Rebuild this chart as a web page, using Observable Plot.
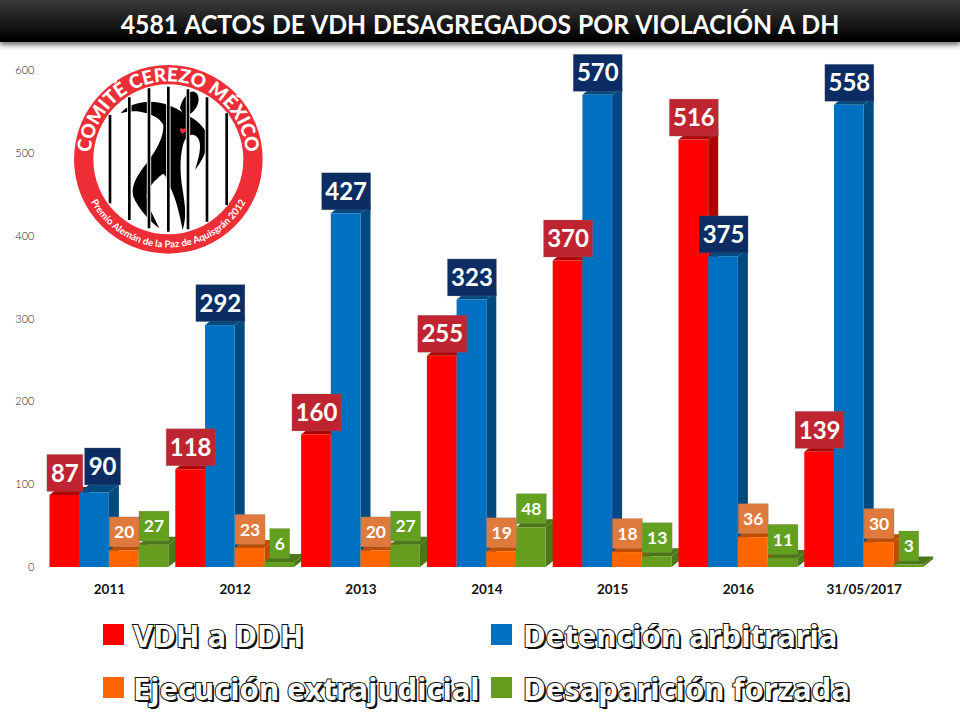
<!DOCTYPE html>
<html lang="es">
<head>
<meta charset="utf-8">
<script src="https://cdn.jsdelivr.net/npm/d3@7"></script>
<script src="https://cdn.jsdelivr.net/npm/@observablehq/plot@0.6"></script>
<style>
html,body{margin:0;padding:0;width:960px;height:720px;overflow:hidden;background:#fff;}
#wrap{position:relative;width:960px;height:720px;font-family:Lato,sans-serif;}
#band{position:absolute;left:0;top:0;width:960px;height:42px;background:linear-gradient(#3b3b3b,#000 95%);box-shadow:0 3px 5px rgba(0,0,0,.55);z-index:3;}
#title{position:absolute;left:0;top:0;width:960px;height:42px;margin:0;text-align:center;color:#fff;font:700 27.5px/47px Lato,sans-serif;z-index:4;white-space:nowrap;transform:scaleX(.9);word-spacing:1px;}
#chart{position:absolute;left:0;top:46px;}
#logo{position:absolute;left:0;top:0;z-index:2;}
.sw{position:absolute;width:21px;height:21px;}
.lg{position:absolute;font:700 31px/40px "Noto Sans",sans-serif;color:#fff;-webkit-text-stroke:2px #111;paint-order:stroke fill;text-shadow:2px 2px 0 #111;white-space:nowrap;}
</style>
</head>
<body>
<div id="wrap">
  <div id="band"></div>
  <h1 id="title">4581 ACTOS DE VDH DESAGREGADOS POR VIOLACIÓN A DH</h1>
  <div id="chart"></div>
  <svg id="logo" width="320" height="260" viewBox="0 0 960 780">
    <defs>
      <path id="arcTop" d="M 271.3 490 A 234 234 0 1 1 738.7 490"/>
      <path id="arcBot" d="M 247.4 540 A 265 265 0 0 0 762.6 540"/>
    </defs>
    <circle cx="505" cy="478" r="283" fill="#ee2e36"/>
    <circle cx="505" cy="478" r="225" fill="#fff"/>
    <text font-family="Lato,sans-serif" font-weight="900" font-size="57" fill="#fff"><textPath href="#arcTop" startOffset="50%" text-anchor="middle">COMITÉ CEREZO MÉXICO</textPath></text>
    <text font-family="Lato,sans-serif" font-weight="700" font-size="29" fill="#fff"><textPath href="#arcBot" startOffset="50%" text-anchor="middle">Premio Alemán de la Paz de Aquisgrán 2012</textPath></text>
    <path d="M540 322C548 295 565 272 582 275C600 280 600 310 585 328C575 342 560 350 552 342C548 338 542 332 540 322Z" fill="#000"/>
    <path d="M362 340C378 318 410 306 450 305C490 306 525 320 552 340C575 352 600 366 618 395C628 425 622 462 585 510C596 475 606 440 596 418C585 398 565 400 552 425C540 460 538 510 548 570C556 620 560 650 548 690C540 650 530 600 510 560C500 535 495 520 488 522C465 540 440 565 440 590C445 625 465 655 478 685C450 665 415 625 400 590C392 560 408 530 440 490C470 450 492 410 490 375C480 352 450 340 420 335C400 332 380 334 362 340Z" fill="#000"/>
    <g stroke="#fff" stroke-width="13"><path d="M330 345V610M388 292V660M447 265V685M505 260V695M564 268V688M621 292V665M680 340V615"/></g>
    <g stroke="#000" stroke-width="8"><path d="M330 345V610M388 292V660M447 265V685M505 260V695M564 268V688M621 292V665M680 340V615"/></g>
    <path d="M548 402L539 391C538 384 546 382 549 388C553 382 560 386 558 392Z" fill="#ee2e36"/>
  </svg>
  <div class="sw" style="left:103px;top:624px;background:#ff0000"></div>
  <div class="lg" style="left:133px;top:615px">VDH a DDH</div>
  <div class="sw" style="left:491px;top:624px;background:#0070c0"></div>
  <div class="lg" style="left:523px;top:615px">Detención arbitraria</div>
  <div class="sw" style="left:103px;top:677px;background:#ff6600"></div>
  <div class="lg" style="left:133px;top:668px">Ejecución extrajudicial</div>
  <div class="sw" style="left:491px;top:677px;background:#669d1f"></div>
  <div class="lg" style="left:523px;top:668px">Desaparición forzada</div>
</div>
<script>
const years = ["2011","2012","2013","2014","2015","2016","31/05/2017"];
const seriesNames = ["VDH a DDH","Detención arbitraria","Ejecución extrajudicial","Desaparición forzada"];
const vdhDdh = [87,118,160,255,370,516,139];
const detencion = [90,292,427,323,570,375,558];
const ejecucion = [20,23,20,19,18,36,30];
const desaparicion = [27,6,27,48,13,11,3];
const yTicks = [0,100,200,300,400,500,600];

const frontColors = ["#ff0000","#0070c0","#ff6600","#669d1f"];
const sideColors = ["#b00000","#004a80","#bf4d00","#4c7618"];
const boxColors = ["#bf2530","#0b2d63","#e07a3c","#63a01f"];

const seriesValues = [vdhDdh,detencion,ejecucion,desaparicion];
const rows = seriesValues.flatMap((vals,s)=>vals.map((value,i)=>({year:years[i],series:seriesNames[s],value})));

// Oblique depth of each bar, in pixels
const depthX = 10, depthY = 8;

function extrude(index, scales, values, dimensions, context, next){
  const g = next(index, scales, values, dimensions, context);
  d3.select(g).selectAll("rect").each(function(i){
    const x = +this.getAttribute("x"), y = +this.getAttribute("y"),
          w = +this.getAttribute("width"), h = +this.getAttribute("height");
    const s = seriesNames.indexOf(rows[i].series);
    const mk = pts => {
      const p = document.createElementNS("http://www.w3.org/2000/svg","polygon");
      p.setAttribute("points", pts.map(q=>q.join(",")).join(" "));
      p.setAttribute("fill", sideColors[s]);
      this.parentNode.insertBefore(p, this);
    };
    mk([[x+w,y],[x+w+depthX,y-depthY],[x+w+depthX,y+h-depthY],[x+w,y+h]]);
    mk([[x,y],[x+depthX,y-depthY],[x+w+depthX,y-depthY],[x+w,y]]);
  });
  return g;
}

function boxed(index, scales, values, dimensions, context, next){
  const g = next(index, scales, values, dimensions, context);
  d3.select(g).selectAll("text").each(function(i){
    const m = /translate\(([-\d.]+),\s*([-\d.]+)\)/.exec(this.getAttribute("transform") || "");
    if (!m) return;
    const d = rows[i], s = seriesNames.indexOf(d.series), big = s < 2;
    const digits = String(d.value).length;
    const w = big ? (digits === 3 ? 49 : 36) : (digits === 1 ? 20 : 30);
    const h = big ? 37 : 30;
    // the "90" box sits off its bar in the reference
    const nudgeX = d.value === 90 ? 8 : 0, nudgeY = d.value === 90 ? -4 : 0;
    const ns = "http://www.w3.org/2000/svg";
    const box = document.createElementNS(ns,"g");
    box.setAttribute("transform",`translate(${+m[1]+nudgeX},${+m[2]-4-h/2+nudgeY})`);
    const r = document.createElementNS(ns,"rect");
    r.setAttribute("x",-w/2); r.setAttribute("y",-h/2);
    r.setAttribute("width",w); r.setAttribute("height",h);
    r.setAttribute("fill",boxColors[s]);
    r.setAttribute("stroke","rgba(120,120,120,.35)");
    r.setAttribute("stroke-width","0.7");
    this.parentNode.insertBefore(box,this);
    box.appendChild(r);
    box.appendChild(this);
    this.removeAttribute("transform");
    this.setAttribute("font-size", big ? 24 : 17.5);
    this.setAttribute("y", 0);
    this.setAttribute("dy","0.36em");
  });
  return g;
}

const plot = Plot.plot({
  width: 960,
  height: 560,
  marginTop: 24,
  marginBottom: 39,
  marginLeft: 46,
  marginRight: 33.4,
  style: {fontFamily: "Lato, sans-serif", background: "transparent", overflow: "visible"},
  fx: {domain: years, padding: 0, round: false, label: null},
  x: {domain: seriesNames, paddingInner: 0, paddingOuter: 0.118, round: false, axis: null},
  y: {domain: [0,600], label: null},
  color: {domain: seriesNames, range: frontColors},
  marks: [
    Plot.barY(rows, {fx: "year", x: "series", y: "value", fill: "series", render: extrude}),
    Plot.text(rows, {fx: "year", x: "series", y: "value", text: "value", fill: "#fff", fontWeight: 700, render: boxed}),
    Plot.axisY({ticks: yTicks, tickSize: 0, tickPadding: 12, fontSize: 11, fontWeight: 300, fill: "#222", label: null}),
    Plot.axisFx({anchor: "bottom", tickSize: 0, tickPadding: 17, fontSize: 13.5, fontWeight: 700, fill: "#111", label: null})
  ]
});
document.getElementById("chart").appendChild(plot);
</script>
</body>
</html>
